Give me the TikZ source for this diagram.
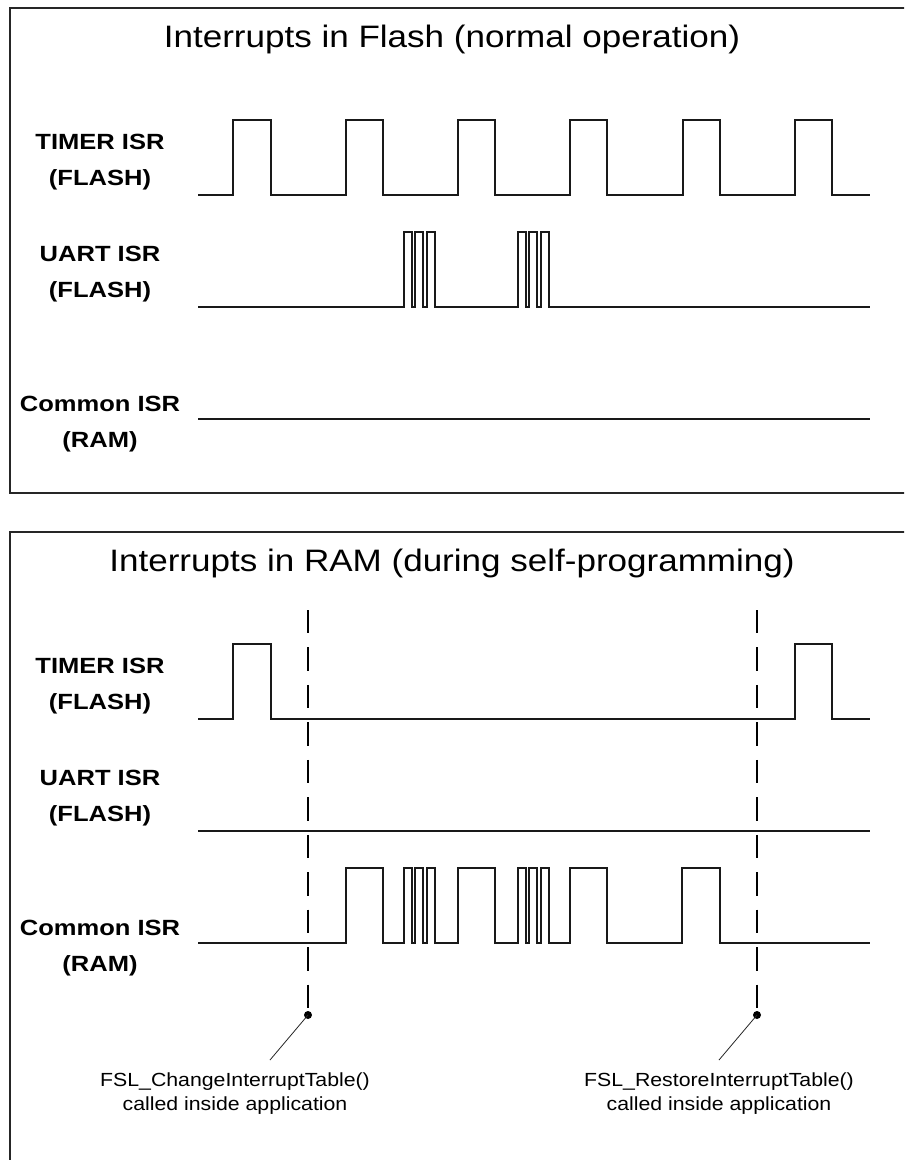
\documentclass[tikz,border=0pt]{standalone}
\usepackage{fontspec}
\setmainfont{Liberation Sans}
\newfontfamily\titlef[FakeStretch=1.13]{Liberation Sans}
\newfontfamily\labf[FakeStretch=1.16]{Liberation Sans}
\newfontfamily\notef[FakeStretch=1.12]{Liberation Sans}
\begin{document}
\begin{tikzpicture}[x=0.75pt,y=-0.75pt,
  frame/.style={draw=black!85,line width=1.5pt},
  wave/.style={draw=black!90,line width=1.1pt,line join=miter},
  dashline/.style={draw=black,line width=2.2pt,dash pattern=on 17.6pt off 10.5pt},
  dotnode/.style={circle,fill=black,inner sep=0pt,minimum size=6pt},
  ttl/.style={font=\titlef\fontsize{23.25pt}{28pt}\selectfont,anchor=base,inner sep=0pt},
  lab/.style={font=\labf\bfseries\fontsize{16.5pt}{20pt}\selectfont,anchor=base,inner sep=0pt},
  note/.style={font=\notef\fontsize{14.25pt}{18pt}\selectfont,anchor=base,inner sep=0pt},
  leader/.style={draw=black!85,line width=0.6pt}]
\useasboundingbox (0,0) rectangle (904,1160);
\clip (0,0) rectangle (904,1160);
\fill[white] (0,0) rectangle (904,1160);

% ---------- top panel ----------
\draw[frame] (10,8) rectangle (920,493);
\node[ttl] (t1) at (452,47) {Interrupts in Flash (normal operation)};
\node[lab] (l1a) at (100,149.5) {TIMER ISR};
\node[lab] (l1b) at (100,185.5) {(FLASH)};
\node[lab] (l2a) at (100,261.5) {UART ISR};
\node[lab] (l2b) at (100,297.5) {(FLASH)};
\node[lab] (l3a) at (100,411) {Common ISR};
\node[lab] (l3b) at (100,447) {(RAM)};

\draw[wave] (198,195) \foreach \a/\b in {233/271,346/383,458/495,570/607,683/720,795/832}
  { -- (\a,195) -- (\a,120) -- (\b,120) -- (\b,195) } -- (870,195);
\draw[wave] (198,307) \foreach \a/\b in {404/412,415/423,427/435,518/526,529/537,541/549}
  { -- (\a,307) -- (\a,232) -- (\b,232) -- (\b,307) } -- (870,307);
\draw[wave] (198,419) -- (870,419);

% ---------- bottom panel ----------
\draw[frame] (10,532) rectangle (920,1180);
\node[ttl] (t2) at (452,571) {Interrupts in RAM (during self-programming)};
\node[lab] (m1a) at (100,673.5) {TIMER ISR};
\node[lab] (m1b) at (100,709.5) {(FLASH)};
\node[lab] (m2a) at (100,785.5) {UART ISR};
\node[lab] (m2b) at (100,821.5) {(FLASH)};
\node[lab] (m3a) at (100,935) {Common ISR};
\node[lab] (m3b) at (100,971) {(RAM)};

\draw[wave] (198,719) \foreach \a/\b in {233/271,795/832}
  { -- (\a,719) -- (\a,644) -- (\b,644) -- (\b,719) } -- (870,719);
\draw[wave] (198,831) -- (870,831);
\draw[wave] (198,943) \foreach \a/\b in {346/383,404/412,415/423,427/435,458/495,518/526,529/537,541/549,570/607,682/720}
  { -- (\a,943) -- (\a,868) -- (\b,868) -- (\b,943) } -- (870,943);

% markers
\coordinate (s1) at (308,610);
\coordinate (s2) at (757,610);
\node[dotnode] (d1) at (308,1015) {};
\node[dotnode] (d2) at (757,1015) {};
\draw[dashline] (s1) -- (d1.center);
\draw[dashline] (s2) -- (d2.center);
\coordinate (e1) at (270,1060);
\coordinate (e2) at (719,1060);
\draw[leader] (d1.center) -- (e1);
\draw[leader] (d2.center) -- (e2);
\node[note] (n1a) at (235,1086) {FSL\_ChangeInterruptTable()};
\node[note] (n1b) at (235,1110) {called inside application};
\node[note] (n2a) at (719,1086) {FSL\_RestoreInterruptTable()};
\node[note] (n2b) at (719,1110) {called inside application};
\end{tikzpicture}
\end{document}
